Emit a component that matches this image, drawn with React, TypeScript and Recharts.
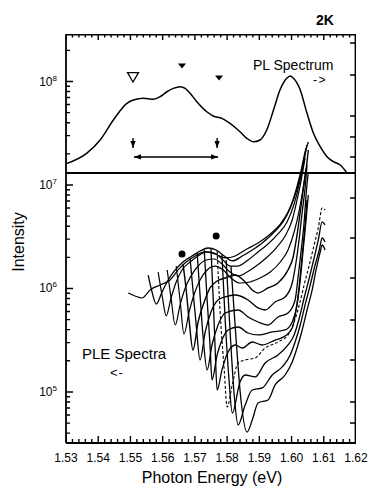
import React from 'react';
import { ComposedChart, Line, XAxis, YAxis, ReferenceLine, ReferenceDot } from 'recharts';

type Pt = [number, number]; // [photon energy (eV), log10 intensity]

const FONT = '"Liberation Sans", Arial, Helvetica, sans-serif';

// ---- chart geometry ----
const CHART_W = 370;
const CHART_H = 490;
const MARGIN = { top: 34, right: 14, bottom: 0, left: 0 };
const Y_AXIS_W = 66;
const X_AXIS_H = 47;

// ---- axis ticks ----
const xMajorTicks = [1.53, 1.54, 1.55, 1.56, 1.57, 1.58, 1.59, 1.6, 1.61, 1.62];
const xMinorTicks = [
  1.532, 1.534, 1.536, 1.538, 1.542, 1.544, 1.546, 1.548, 1.552, 1.554, 1.556, 1.558,
  1.562, 1.564, 1.566, 1.568, 1.572, 1.574, 1.576, 1.578, 1.582, 1.584, 1.586, 1.588,
  1.592, 1.594, 1.596, 1.598, 1.602, 1.604, 1.606, 1.608, 1.612, 1.614, 1.616, 1.618,
];
const yMajorTicks = [1e5, 1e6, 1e7, 1e8];
const yMinorTicks = [
  4e4, 5e4, 6e4, 7e4, 8e4, 9e4,
  2e5, 3e5, 4e5, 5e5, 6e5, 7e5, 8e5, 9e5,
  2e6, 3e6, 4e6, 5e6, 6e6, 7e6, 8e6, 9e6,
  2e7, 3e7, 4e7, 5e7, 6e7, 7e7, 8e7, 9e7,
  2e8,
];
const rightTickLogs = [8.372, 8.063, 7.667, 7.464, 7.271, 6.874, 6.488, 6.101, 5.696, 5.309, 4.903, 4.7];
const yDomainLog: [number, number] = [4.507, 8.459];
const xDomain: [number, number] = [1.53, 1.62];
const dividerLog = 7.116;

// ---- PL spectrum (upper panel) ----
const plSpectrum: Pt[] = [
  [1.53, 7.205], [1.5364, 7.306], [1.5406, 7.435], [1.5447, 7.628], [1.5489, 7.789], [1.5509, 7.821],
  [1.554, 7.838], [1.5571, 7.828], [1.5592, 7.853], [1.5613, 7.901], [1.5633, 7.934], [1.5654, 7.95],
  [1.567, 7.934], [1.5685, 7.886], [1.5706, 7.805], [1.5737, 7.708], [1.5757, 7.667], [1.5784, 7.644],
  [1.5809, 7.596], [1.584, 7.515], [1.5861, 7.451], [1.5882, 7.418], [1.5902, 7.435], [1.5923, 7.531],
  [1.5944, 7.725], [1.5964, 7.918], [1.5985, 8.031], [1.5996, 8.053], [1.6006, 8.031], [1.6027, 7.918],
  [1.6048, 7.693], [1.6068, 7.5], [1.6089, 7.37], [1.611, 7.273], [1.613, 7.225], [1.6151, 7.193],
  [1.617, 7.126],
];

// ---- PLE spectra (lower panel) ----
const ple01: Pt[] = [
  [1.5493, 5.957], [1.5514, 5.928], [1.5536, 5.908], [1.5561, 5.986], [1.5592, 6.034], [1.5623, 6.082],
  [1.5648, 6.179], [1.5673, 6.256], [1.5701, 6.314], [1.5732, 6.353], [1.5763, 6.333], [1.5794, 6.295],
  [1.5825, 6.314], [1.5856, 6.372], [1.5896, 6.44], [1.5934, 6.527], [1.5965, 6.623], [1.5989, 6.739],
  [1.6011, 6.903], [1.6027, 7.068], [1.6039, 7.242], [1.6048, 7.386],
];
const ple02: Pt[] = [
  [1.5555, 6.13], [1.5567, 5.966], [1.558, 5.85], [1.5598, 5.966], [1.5617, 6.082], [1.5639, 6.179],
  [1.5663, 6.256], [1.5691, 6.314], [1.5716, 6.362], [1.5741, 6.391], [1.5766, 6.372], [1.5791, 6.314],
  [1.5816, 6.266], [1.5847, 6.314], [1.5878, 6.372], [1.5909, 6.44], [1.594, 6.527], [1.5971, 6.633],
  [1.5996, 6.778], [1.6014, 6.952], [1.603, 7.145], [1.6042, 7.319], [1.6052, 7.415],
];
const ple03: Pt[] = [
  [1.5586, 6.159], [1.5598, 5.937], [1.5611, 5.734], [1.5626, 5.908], [1.5642, 6.063], [1.566, 6.179],
  [1.5685, 6.256], [1.571, 6.314], [1.5735, 6.353], [1.576, 6.343], [1.5784, 6.285], [1.5809, 6.217],
  [1.5834, 6.217], [1.5865, 6.275], [1.5896, 6.353], [1.5927, 6.43], [1.5958, 6.527], [1.5986, 6.643],
  [1.6008, 6.816], [1.6024, 7.01], [1.6036, 7.193], [1.6045, 7.357],
];
const ple04: Pt[] = [
  [1.5614, 6.179], [1.5626, 5.908], [1.5639, 5.647], [1.5654, 5.841], [1.567, 6.005], [1.5688, 6.121],
  [1.571, 6.217], [1.5735, 6.275], [1.576, 6.285], [1.5784, 6.237], [1.5809, 6.159], [1.5834, 6.121],
  [1.5862, 6.159], [1.589, 6.217], [1.5921, 6.295], [1.5952, 6.391], [1.598, 6.507], [1.6002, 6.662],
  [1.6017, 6.855], [1.603, 7.048], [1.6042, 7.261],
];
const ple05: Pt[] = [
  [1.5642, 6.217], [1.5654, 5.889], [1.5666, 5.56], [1.5682, 5.773], [1.5698, 5.947], [1.5716, 6.082],
  [1.5738, 6.179], [1.5763, 6.217], [1.5788, 6.179], [1.5812, 6.101], [1.584, 6.053], [1.5871, 6.063],
  [1.5902, 6.101], [1.5934, 6.159], [1.5965, 6.256], [1.5989, 6.372], [1.6008, 6.546], [1.6024, 6.758],
  [1.6036, 6.971], [1.6045, 7.164],
];
const ple06: Pt[] = [
  [1.5663, 6.237], [1.5673, 5.986], [1.5682, 5.696], [1.5694, 5.406], [1.571, 5.676], [1.5729, 5.87],
  [1.5747, 6.005], [1.5769, 6.072], [1.5794, 6.101], [1.5825, 6.13], [1.5856, 6.063], [1.5878, 5.986],
  [1.5896, 5.957], [1.5927, 6.005], [1.5958, 6.053], [1.5989, 6.179], [1.6005, 6.304], [1.6017, 6.517],
  [1.6027, 6.739], [1.6036, 6.952], [1.6045, 7.145], [1.6052, 7.338],
];
const ple07: Pt[] = [
  [1.5685, 6.295], [1.5694, 5.986], [1.5704, 5.647], [1.5716, 5.309], [1.5732, 5.58], [1.575, 5.773],
  [1.5772, 5.889], [1.5794, 5.918], [1.5825, 5.937], [1.5865, 5.889], [1.5896, 5.812], [1.5918, 5.792],
  [1.5949, 5.87], [1.598, 5.918], [1.6002, 6.053], [1.6014, 6.256], [1.6024, 6.488], [1.6033, 6.739],
  [1.6042, 6.971], [1.6048, 7.193],
];
const ple08: Pt[] = [
  [1.5707, 6.343], [1.5716, 5.937], [1.5725, 5.551], [1.5738, 5.213], [1.5753, 5.454], [1.5772, 5.647],
  [1.5794, 5.763], [1.5834, 5.792], [1.5865, 5.725], [1.5896, 5.676], [1.5927, 5.647], [1.5958, 5.725],
  [1.5989, 5.763], [1.6011, 5.889], [1.602, 6.101], [1.603, 6.372], [1.6039, 6.643], [1.6045, 6.903],
  [1.6052, 7.126],
];
const ple09: Pt[] = [
  [1.5729, 6.372], [1.5738, 5.889], [1.5747, 5.454], [1.5753, 5.116], [1.5769, 5.358], [1.5784, 5.502],
  [1.5803, 5.599], [1.5834, 5.628], [1.5865, 5.57], [1.5896, 5.551], [1.594, 5.58], [1.598, 5.599],
  [1.6002, 5.676], [1.6017, 5.841], [1.6027, 6.082], [1.6036, 6.372], [1.6045, 6.662], [1.6052, 6.903],
];
const ple10: Pt[] = [
  [1.575, 6.382], [1.5757, 5.889], [1.5763, 5.406], [1.5769, 5.019], [1.5784, 5.213], [1.5803, 5.387],
  [1.5825, 5.454], [1.5847, 5.425], [1.5878, 5.483], [1.5909, 5.454], [1.5949, 5.502], [1.598, 5.541],
  [1.6002, 5.618], [1.6014, 5.792], [1.6024, 6.034], [1.6033, 6.324], [1.6042, 6.614], [1.6048, 6.855],
];
const ple11: Pt[] = [
  [1.5769, 6.362], [1.5778, 5.792], [1.5791, 5.213], [1.58, 4.855], [1.5816, 5.068], [1.5834, 5.28],
  [1.5856, 5.309], [1.5887, 5.329], [1.5918, 5.425], [1.5958, 5.483], [1.5989, 5.551], [1.6008, 5.676],
  [1.6024, 5.841], [1.6039, 6.034], [1.6055, 6.227], [1.607, 6.42], [1.6083, 6.585], [1.6095, 6.778],
  [1.6104, 6.758],
];
const ple12: Pt[] = [
  [1.5784, 6.324], [1.5794, 5.696], [1.5806, 5.116], [1.5816, 4.797], [1.584, 5.097], [1.5856, 5.164],
  [1.5887, 5.145], [1.5918, 5.28], [1.5958, 5.358], [1.5989, 5.454], [1.6008, 5.551], [1.6024, 5.715],
  [1.6039, 5.908], [1.6055, 6.101], [1.607, 6.295], [1.6083, 6.469], [1.6095, 6.643], [1.6104, 6.614],
];
const ple13: Pt[] = [
  [1.5797, 6.275], [1.5809, 5.599], [1.5822, 4.971], [1.5834, 4.681], [1.5856, 4.874], [1.5878, 5.019],
  [1.5909, 5.039], [1.594, 5.164], [1.5971, 5.242], [1.5996, 5.358], [1.6011, 5.483], [1.6027, 5.647],
  [1.6042, 5.841], [1.6058, 6.034], [1.6073, 6.227], [1.6086, 6.372], [1.6095, 6.488], [1.6104, 6.449],
];
const ple14: Pt[] = [
  [1.5812, 6.217], [1.5828, 5.502], [1.5843, 4.923], [1.5862, 4.613], [1.5878, 4.729], [1.5896, 4.894],
  [1.5927, 4.923], [1.5949, 5.068], [1.598, 5.164], [1.6002, 5.29], [1.6017, 5.425], [1.6033, 5.599],
  [1.6048, 5.792], [1.6064, 5.986], [1.6076, 6.179], [1.6089, 6.353], [1.6095, 6.42], [1.6104, 6.372],
];

const pleSpectra: { pts: Pt[]; dash?: string; w?: number }[] = [
  { pts: ple01, w: 1.2 }, { pts: ple02, w: 1.3 }, { pts: ple03, w: 1.2 }, { pts: ple04, w: 1.2 },
  { pts: ple05, w: 1.2 }, { pts: ple06, w: 1.4 }, { pts: ple07, w: 1.3 }, { pts: ple08, w: 1.3 },
  { pts: ple09, w: 1.3 }, { pts: ple10, w: 1.3 }, { pts: ple11, w: 1.1, dash: '3 2' },
  { pts: ple12, w: 1.3 }, { pts: ple13, w: 1.3 }, { pts: ple14, w: 1.3 },
];

// ---- annotations ----
const openTriangle: Pt = [1.5508, 8.043];
const filledTriangles: Pt[] = [[1.566, 8.15], [1.5775, 8.034]];
const downArrowX = [1.5508, 1.5769];
const downArrowLog: [number, number] = [7.454, 7.357];
const rangeArrow: { x: [number, number]; log: number } = { x: [1.5511, 1.5772], log: 7.271 };
const peakDots: Pt[] = [[1.566, 6.333], [1.5766, 6.507]];

const toSeries = (pts: Pt[]) => pts.map(([x, l]) => ({ x, y: Math.pow(10, l) }));
const xTicks = [...xMajorTicks, ...xMinorTicks].sort((a, b) => a - b);
const yTicks = [...yMajorTicks, ...yMinorTicks].sort((a, b) => a - b);
const yDomain: [number, number] = [Math.pow(10, yDomainLog[0]), Math.pow(10, yDomainLog[1])];

const isMajorX = (v: number) => Math.abs(v * 100 - Math.round(v * 100)) < 1e-6;
const isDecade = (v: number) => Math.abs(Math.log10(v) - Math.round(Math.log10(v))) < 1e-6;

// plot rectangle, same as the one Recharts derives from the margins and axis sizes
const PLOT = {
  left: MARGIN.left + Y_AXIS_W,
  right: CHART_W - MARGIN.right,
  top: MARGIN.top,
  bottom: CHART_H - MARGIN.bottom - X_AXIS_H,
};
// data units per pixel, used to size the tick marks
const DX = (xDomain[1] - xDomain[0]) / (PLOT.right - PLOT.left);
const DL = (yDomainLog[1] - yDomainLog[0]) / (PLOT.bottom - PLOT.top);

type TP = { x: number; y: number | null };
const bottomTickSeries: TP[] = xTicks.flatMap((v) => [
  { x: v, y: Math.pow(10, yDomainLog[0]) },
  { x: v, y: Math.pow(10, yDomainLog[0] + (isMajorX(v) ? 7 : 4) * DL) },
  { x: v, y: null },
]);
const topTickSeries: TP[] = xTicks.flatMap((v) => [
  { x: v, y: Math.pow(10, yDomainLog[1]) },
  { x: v, y: Math.pow(10, yDomainLog[1] - (isMajorX(v) ? 6 : 3.5) * DL) },
  { x: v, y: null },
]);
const leftTickSeries: TP[] = yTicks.flatMap((v) => [
  { x: xDomain[0], y: v },
  { x: xDomain[0] + (isDecade(v) ? 7 : 4) * DX, y: v },
  { x: xDomain[0], y: null },
]);
const rightTickSeries: TP[] = rightTickLogs.flatMap((l) => [
  { x: xDomain[1], y: Math.pow(10, l) },
  { x: xDomain[1] - 6 * DX, y: Math.pow(10, l) },
  { x: xDomain[1], y: null },
]);
const topEdge: TP[] = [
  { x: xDomain[0], y: Math.pow(10, yDomainLog[1] - 0.5 * DL) },
  { x: xDomain[1], y: Math.pow(10, yDomainLog[1] - 0.5 * DL) },
];
const rightEdge: TP[] = [
  { x: xDomain[1] - 0.5 * DX, y: yDomain[0] },
  { x: xDomain[1] - 0.5 * DX, y: yDomain[1] },
];

const BottomLabel = (props: any) => {
  const { x, y, payload } = props;
  if (!isMajorX(payload.value)) return <g />;
  return (
    <text x={x} y={y + 19} textAnchor="middle" fontSize={12} fontFamily={FONT} fill="#000">
      {payload.value.toFixed(2)}
    </text>
  );
};

const LeftLabel = (props: any) => {
  const { x, y, payload } = props;
  if (!isDecade(payload.value)) return <g />;
  const exp = Math.round(Math.log10(payload.value));
  return (
    <text x={x - 9} y={y + 4} textAnchor="end" fontSize={12} fontFamily={FONT} fill="#000">
      10<tspan dy={-5} fontSize={8}>{exp}</tspan>
    </text>
  );
};

const ArrowShape = (props: any) => {
  const { x1, y1, x2, y2, both } = props;
  const head = (tx: number, ty: number, fx: number, fy: number) => {
    const a = Math.atan2(ty - fy, tx - fx);
    const L = 7;
    const W = 2.6;
    const bx = tx - L * Math.cos(a);
    const by = ty - L * Math.sin(a);
    const ppx = -Math.sin(a) * W;
    const ppy = Math.cos(a) * W;
    return <polygon points={`${tx},${ty} ${bx + ppx},${by + ppy} ${bx - ppx},${by - ppy}`} fill="#000" />;
  };
  return (
    <g>
      <line x1={x1} y1={y1} x2={x2} y2={y2} stroke="#000" strokeWidth={1.4} />
      {head(x2, y2, x1, y1)}
      {both && head(x1, y1, x2, y2)}
    </g>
  );
};

const OpenTri = (p: any) => (
  <polygon points={`${p.cx - 5.5},${p.cy - 4.5} ${p.cx + 5.5},${p.cy - 4.5} ${p.cx},${p.cy + 5}`} fill="#fff" stroke="#000" strokeWidth={1.3} />
);
const FilledTri = (p: any) => (
  <polygon points={`${p.cx - 4},${p.cy - 2.5} ${p.cx + 4},${p.cy - 2.5} ${p.cx},${p.cy + 2.5}`} fill="#000" />
);
const Dot = (p: any) => <circle cx={p.cx} cy={p.cy} r={3.5} fill="#000" />;

const txt = (extra: React.CSSProperties): React.CSSProperties => ({
  position: 'absolute',
  fontFamily: FONT,
  color: '#000',
  lineHeight: 1,
  whiteSpace: 'nowrap',
  ...extra,
});

const frameLine = (data: TP[], w: number, key: string) => (
  <Line
    key={key}
    xAxisId="b"
    yAxisId="l"
    data={data}
    dataKey="y"
    type="linear"
    connectNulls={false}
    stroke="#000"
    strokeWidth={w}
    dot={false}
    activeDot={false}
    isAnimationActive={false}
  />
);

export default function App() {
  return (
    <div style={{ position: 'absolute', left: 0, top: 0, width: CHART_W, height: CHART_H, background: '#fff', overflow: 'hidden' }}>
      <ComposedChart width={CHART_W} height={CHART_H} margin={MARGIN}>
        <XAxis
          xAxisId="b"
          type="number"
          dataKey="x"
          domain={xDomain}
          allowDataOverflow
          ticks={xTicks}
          interval={0}
          tickSize={0}
          tickMargin={0}
          tickLine={false}
          tick={<BottomLabel />}
          height={X_AXIS_H}
          axisLine={{ stroke: '#000', strokeWidth: 1.8 }}
        />
        <YAxis
          yAxisId="l"
          type="number"
          scale="log"
          domain={yDomain}
          allowDataOverflow
          ticks={yTicks}
          interval={0}
          tickSize={0}
          tickMargin={0}
          tickLine={false}
          tick={<LeftLabel />}
          width={Y_AXIS_W}
          axisLine={{ stroke: '#000', strokeWidth: 1.8 }}
        />

        {/* frame (top, right) and inward tick marks */}
        {frameLine(topEdge, 1.8, 'edgeT')}
        {frameLine(rightEdge, 1.8, 'edgeR')}
        {frameLine(bottomTickSeries, 1.4, 'tickB')}
        {frameLine(topTickSeries, 1.4, 'tickT')}
        {frameLine(leftTickSeries, 1.4, 'tickL')}
        {frameLine(rightTickSeries, 1.4, 'tickR')}

        <ReferenceLine xAxisId="b" yAxisId="l" y={Math.pow(10, dividerLog)} stroke="#000" strokeWidth={2.2} />

        <Line
          xAxisId="b"
          yAxisId="l"
          data={toSeries(plSpectrum)}
          dataKey="y"
          type="monotone"
          stroke="#000"
          strokeWidth={1.5}
          dot={false}
          isAnimationActive={false}
        />
        {pleSpectra.map((s, i) => (
          <Line
            key={i}
            xAxisId="b"
            yAxisId="l"
            data={toSeries(s.pts)}
            dataKey="y"
            type="monotone"
            stroke="#000"
            strokeWidth={s.w ?? 1.2}
            strokeDasharray={s.dash}
            dot={false}
            isAnimationActive={false}
          />
        ))}

        <ReferenceDot xAxisId="b" yAxisId="l" x={openTriangle[0]} y={Math.pow(10, openTriangle[1])} shape={<OpenTri />} />
        {filledTriangles.map((t, i) => (
          <ReferenceDot key={'ft' + i} xAxisId="b" yAxisId="l" x={t[0]} y={Math.pow(10, t[1])} shape={<FilledTri />} />
        ))}
        {peakDots.map((t, i) => (
          <ReferenceDot key={'pd' + i} xAxisId="b" yAxisId="l" x={t[0]} y={Math.pow(10, t[1])} shape={<Dot />} />
        ))}
        {downArrowX.map((x, i) => (
          <ReferenceLine
            key={'da' + i}
            xAxisId="b"
            yAxisId="l"
            segment={[{ x, y: Math.pow(10, downArrowLog[0]) }, { x, y: Math.pow(10, downArrowLog[1]) }]}
            shape={(p: any) => <ArrowShape {...p} />}
          />
        ))}
        <ReferenceLine
          xAxisId="b"
          yAxisId="l"
          segment={[
            { x: rangeArrow.x[0], y: Math.pow(10, rangeArrow.log) },
            { x: rangeArrow.x[1], y: Math.pow(10, rangeArrow.log) },
          ]}
          shape={(p: any) => <ArrowShape {...p} both />}
        />
      </ComposedChart>

      <div style={txt({ left: 316, top: 13, fontSize: 14, fontWeight: 'bold' })}>2K</div>
      <div style={txt({ left: 253, top: 58, fontSize: 14 })}>PL Spectrum</div>
      <div style={txt({ left: 313, top: 74, fontSize: 12, letterSpacing: 1.5 })}>-&gt;</div>
      <div style={txt({ left: 82, top: 346, fontSize: 15 })}>PLE Spectra</div>
      <div style={txt({ left: 110, top: 366, fontSize: 13, letterSpacing: 1 })}>&lt;-</div>
      <div
        style={txt({
          left: 19,
          top: 242,
          fontSize: 16,
          transform: 'translate(-50%, -50%) rotate(-90deg)',
        })}
      >
        Intensity
      </div>
      <div style={txt({ left: 212, top: 470, fontSize: 16, transform: 'translateX(-50%)' })}>Photon Energy (eV)</div>
    </div>
  );
}
